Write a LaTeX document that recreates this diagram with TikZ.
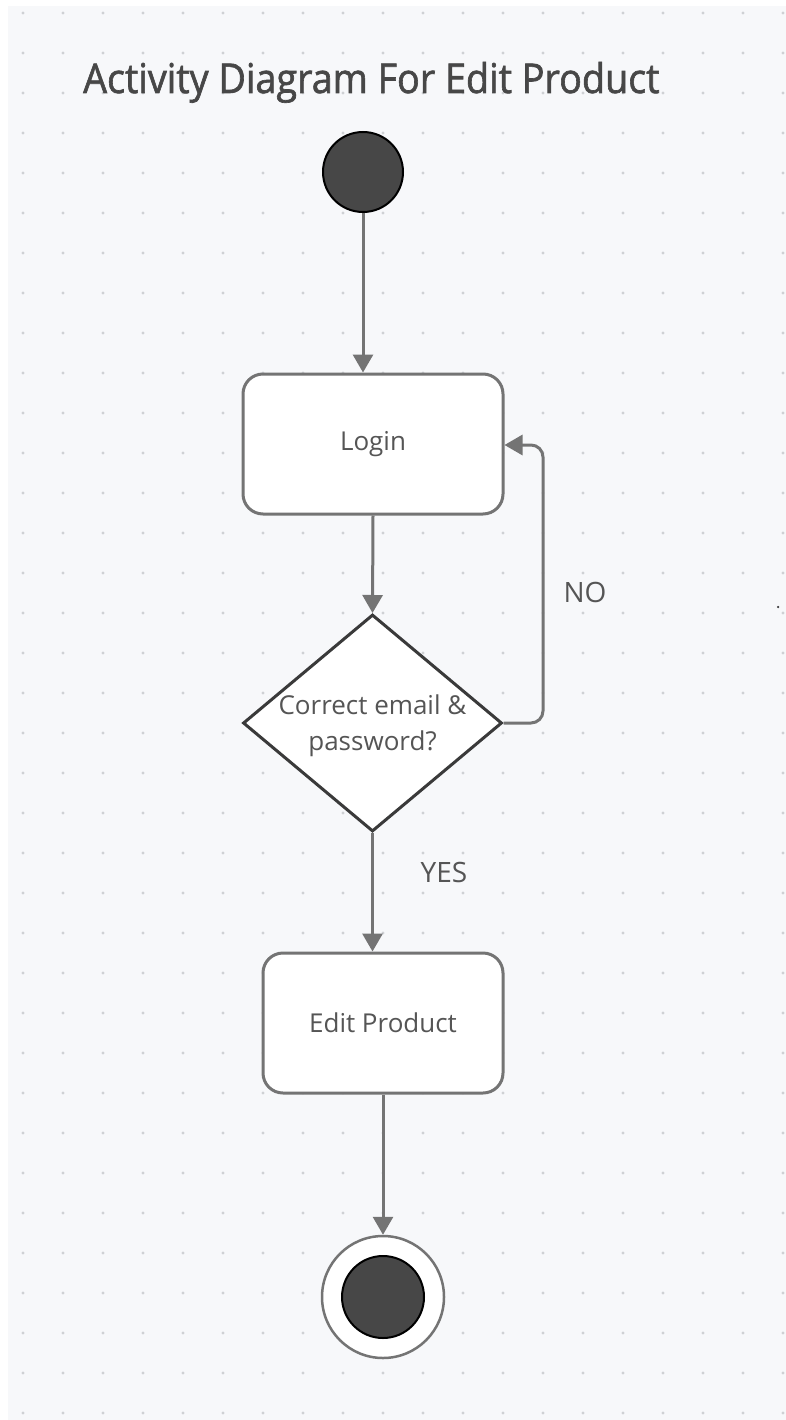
\documentclass[tikz,border=0pt]{standalone}
\usepackage{fontspec}
\setmainfont{Open Sans}
\newfontfamily\titlefont[FakeBold=1.6]{Open Sans}
\usetikzlibrary{shapes.geometric,arrows.meta}
\definecolor{bg}{HTML}{F7F8FA}
\definecolor{gridcol}{HTML}{CFD1D4}
\definecolor{linegray}{HTML}{747474}
\definecolor{darkline}{HTML}{3A3A3A}
\definecolor{txt}{HTML}{555555}
\definecolor{titlecol}{HTML}{474747}
\definecolor{blob}{HTML}{474747}
\tikzset{
  flow/.style={draw=linegray, line width=3pt, -{Triangle[width=20pt,length=18pt]}},
  activity/.style={draw=linegray, line width=3pt, fill=white, rounded corners=20pt,
    text=txt, font=\fontsize{26}{32}\selectfont},
  decision/.style={draw=darkline, line width=3pt, fill=white, diamond, inner sep=0pt},
  dectext/.style={text=txt, align=center, inner sep=0pt, font=\fontsize{26}{36}\selectfont},
  lbl/.style={text=txt, font=\fontsize{28}{32}\selectfont},
}
\begin{document}
\begin{tikzpicture}[x=1pt,y=-1pt]
\useasboundingbox (0,0) rectangle (786,1420);
\fill[white] (0,0) rectangle (786,1420);
\fill[bg] (8,6) rectangle (786,1420);
\foreach \i in {0,...,19}{
  \foreach \j in {0,...,35}{
    \fill[gridcol] (23+40*\i,13+40*\j) circle (1.6pt);
  }
}
\node[text=titlecol, font=\titlefont\fontsize{41}{46}\selectfont, anchor=base west, inner sep=0pt] (title) at (83,93) {\scalebox{0.92}[1]{Activity Diagram For Edit Product}};

\node[circle, draw=black, line width=2pt, fill=blob, minimum size=80pt, inner sep=0pt] (start) at (363,172) {};
\node[activity, minimum width=260pt, minimum height=140pt] (login) at (373,444) {Login};
\node[decision, minimum width=259pt, minimum height=217pt] (dec) at (372.5,723) {};
\node[dectext] (dect) at (372.5,726) {Correct email \&\\password?};
\node[activity, minimum width=240pt, minimum height=140pt] (edit) at (383,1023) {Edit Product};
\node[circle, draw=linegray, line width=2.5pt, fill=white, minimum size=122pt, inner sep=0pt] (end) at (383,1297) {};
\node[circle, draw=black, line width=2pt, fill=blob, minimum size=82pt, inner sep=0pt] (endin) at (end.center) {};

\node[lbl] (no) at (585,592) {NO};
\node[lbl] (yes) at (444,872) {YES};
\node[circle, fill=darkline, minimum size=2.5pt, inner sep=0pt] (dot) at (778,607) {};

\draw[flow] (start.south) -- (start.south |- login.north);
\draw[flow] (login.south) -- (dec.north);
\draw[flow, rounded corners=12pt] (dec.east) -- (543,723) -- (543,445) -- (login.east |- 0,445);
\draw[flow] (dec.south) -- (dec.south |- edit.north);
\draw[flow] (edit.south) -- (end.north);
\end{tikzpicture}
\end{document}
